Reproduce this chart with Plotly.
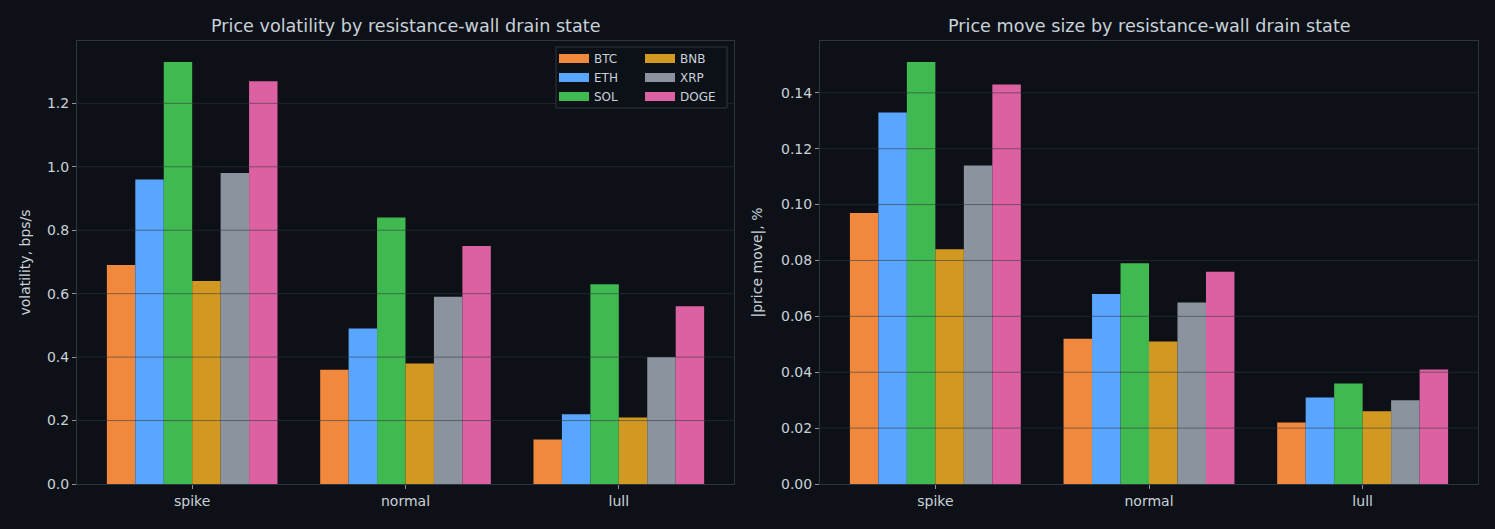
import numpy as np
import plotly.graph_objects as go
from plotly.subplots import make_subplots

states = ["spike", "normal", "lull"]
coins = ["BTC", "ETH", "SOL", "BNB", "XRP", "DOGE"]
colors = ["#f0883e", "#58a6ff", "#3fb950", "#d29922", "#8b949e", "#db61a2"]

volatility = {
    "BTC": [0.69, 0.36, 0.14],
    "ETH": [0.96, 0.49, 0.22],
    "SOL": [1.33, 0.84, 0.63],
    "BNB": [0.64, 0.38, 0.21],
    "XRP": [0.98, 0.59, 0.40],
    "DOGE": [1.27, 0.75, 0.56],
}
move_size = {
    "BTC": [0.097, 0.052, 0.022],
    "ETH": [0.133, 0.068, 0.031],
    "SOL": [0.151, 0.079, 0.036],
    "BNB": [0.084, 0.051, 0.026],
    "XRP": [0.114, 0.065, 0.030],
    "DOGE": [0.143, 0.076, 0.041],
}

W, H = 1495, 529
BG = "#0d1117"
GRID = "rgba(48,54,61,0.55)"
LINE = "#30363d"
TXT = "#c9d1d9"
FONT = "DejaVu Sans"

fig = make_subplots(rows=1, cols=2)

for i, c in enumerate(coins):
    fig.add_trace(go.Bar(x=states, y=volatility[c], name=c, marker_color=colors[i],
                         marker_line_width=0, showlegend=False),
                  row=1, col=1)
    fig.add_trace(go.Bar(x=states, y=move_size[c], name=c, marker_color=colors[i],
                         marker_line_width=0, showlegend=False),
                  row=1, col=2)

# legend swatches (wide rectangles)
for i, c in enumerate(coins):
    fig.add_trace(go.Scatter(x=[None], y=[None], mode="lines", name=c,
                             line=dict(color=colors[i], width=9),
                             legend="legend" if i < 3 else "legend2"),
                  row=1, col=1)

ymax1 = max(max(v) for v in volatility.values()) * 1.05
ymax2 = max(max(v) for v in move_size.values()) * 1.05

axis_common = dict(showline=True, mirror=True, linecolor=LINE, linewidth=1,
                   ticks="outside", ticklen=4, tickcolor="#8b949e",
                   tickfont=dict(size=14, color=TXT, family=FONT), layer="above traces",
                   zeroline=False, showgrid=False)

fig.update_xaxes(**axis_common, range=[-0.54, 2.54])
fig.update_yaxes(**axis_common)

fig.update_xaxes(domain=[77 / W, 734 / W], row=1, col=1)
fig.update_xaxes(domain=[820 / W, 1478 / W], row=1, col=2)
fig.update_yaxes(domain=[0, 1])
fig.update_yaxes(range=[0, ymax1], dtick=0.2, tickformat=".1f", row=1, col=1,
                 title=dict(text="volatility, bps/s", font=dict(size=14, color=TXT, family=FONT), standoff=13))
fig.update_yaxes(range=[0, ymax2], dtick=0.02, tickformat=".2f", row=1, col=2,
                 title=dict(text="|price move|, %", font=dict(size=14, color=TXT, family=FONT), standoff=15))

# gridlines drawn above bars, at the tick values
for yref, step, top in (("y", 0.2, ymax1), ("y2", 0.02, ymax2)):
    for v in np.arange(step, top, step):
        fig.add_shape(type="line", xref=yref.replace("y", "x") + " domain", yref=yref,
                      x0=0, x1=1, y0=v, y1=v, line=dict(color=GRID, width=1), layer="above")

def px(x):
    return x / W

def py(y):
    return (484 - y) / (484 - 41)

titles = [("Price volatility by resistance-wall drain state", (77 + 734) / 2),
          ("Price move size by resistance-wall drain state", (820 + 1478) / 2)]
for t, xc in titles:
    fig.add_annotation(text=t, x=px(xc), y=py(26), xref="paper", yref="paper",
                       showarrow=False, xanchor="center", yanchor="middle",
                       font=dict(size=17.6, color=TXT, family=FONT))

fig.add_shape(type="rect", xref="paper", yref="paper",
              x0=px(556), x1=px(727), y0=py(108), y1=py(47),
              line=dict(color=LINE, width=1), fillcolor="rgba(13,17,23,0.85)", layer="above")

leg_common = dict(bgcolor="rgba(0,0,0,0)", borderwidth=0, font=dict(size=12, color=TXT, family=FONT),
                  xanchor="left", yanchor="top", itemwidth=30, tracegroupgap=0,
                  orientation="v", xref="paper", yref="paper")

fig.update_layout(
    width=W, height=H,
    paper_bgcolor=BG, plot_bgcolor=BG,
    margin=dict(l=0, r=0, t=41, b=45),
    barmode="group", bargap=0.2, bargroupgap=0,
    font=dict(family=FONT, color=TXT),
    legend=dict(**leg_common, x=px(554), y=py(44)),
    legend2=dict(**leg_common, x=px(640), y=py(44)),
)

fig.write_html("out.html")
